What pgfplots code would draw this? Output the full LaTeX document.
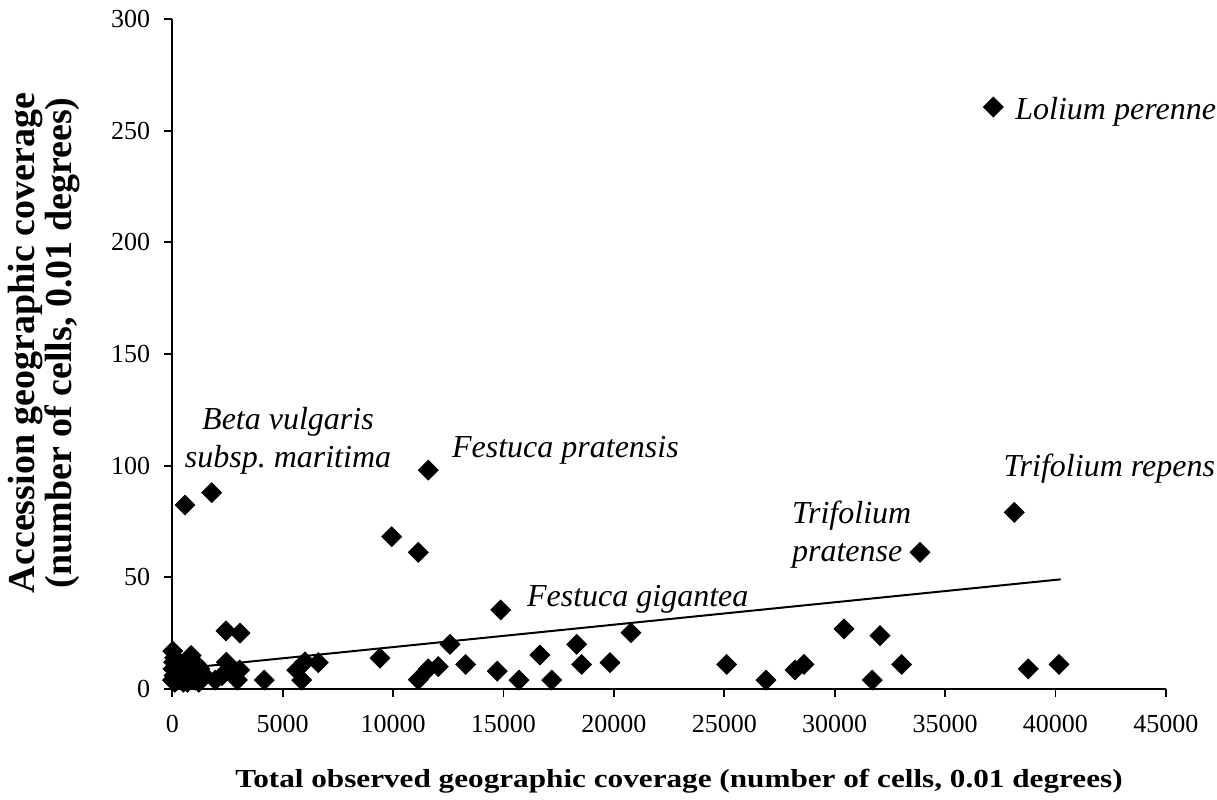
\documentclass[border=0pt]{standalone}
\usepackage{fontspec}
\setmainfont{Liberation Serif}
\usepackage{pgfplots}
\usepackage{pgfplotstable}
\pgfplotsset{compat=1.18}
\pgfplotstableread{
x y
20 17
60 12
30 9
80 6
10 4
150 10
200 7
250 4
300 12
350 9
400 5
450 8
500 3
550 11
600 6
650 9
700 4
750 13
800 7
850 15
900 5
950 10
1000 8
1050 4
1100 11
1150 6
1250 9
1300 5
1350 7
100 14
120 3
680 3
1200 3
575 82.4
1783 87.9
1950 4
2250 6
2450 12
2700 8.5
3050 8.5
2950 4
2432 26
3066 25
4167 4
5634 8.5
5860 4
6010 12.2
6612 11.8
9407 13.8
9936 68.2
11141 61.2
11594 98
11141 4.2
11594 9
12047 10
12577 20
13288 11
14720 8
14873 35.4
15702 4
16649 15.2
17183 4
18315 20
18541 11
19823 11.8
20774 25.2
25108 11
26888 4
28202 8.5
28610 11
30421 26.9
31703 4
32051 23.9
33034 11
33863 61.2
37183 260.6
38134 79.1
38768 9
40159 11
}\pts
\begin{document}
\begin{tikzpicture}
\path[use as bounding box] (-86.15pt,-55pt) rectangle (522.35pt,344.5pt);
\begin{axis}[
  at={(0,0)}, anchor=south west,
  scale only axis, width=496.8pt, height=335pt,
  xmin=0, xmax=45000, ymin=0, ymax=300,
  xtick={0,5000,...,45000}, ytick={0,50,...,300},
  scaled x ticks=false,
  /pgf/number format/1000 sep={},
  /pgf/number format/assume math mode=true,
  axis lines=left, axis line style={-, line width=0.9pt, black},
  tick align=outside, major tick length=4pt,
  tick style={black, line width=0.9pt},
  tick label style={font=\fontsize{13}{15}\selectfont},
  xticklabel style={yshift=-5.5pt},
  yticklabel style={xshift=-3.5pt},
  clip=false,
]
\addplot[black, line width=1pt, no marks] coordinates {(0,8.74) (40235,49.1)};
\addplot[only marks, mark=square*, mark size=3.5pt,
  mark options={rotate=45, fill=black, draw=black}] table[x=x,y=y] {\pts};
\begin{scope}[every node/.style={inner sep=0pt, font=\fontsize{16}{19}\selectfont\itshape}]
\node[anchor=base west] at (axis cs:38166,255.0) {Lolium perenne};
\node[anchor=base] at (axis cs:5240,116.2) {Beta vulgaris};
\node[anchor=base] at (axis cs:5240,99.2) {subsp.\ maritima};
\node[anchor=base west] at (axis cs:12654,103.7) {Festuca pratensis};
\node[anchor=base west] at (axis cs:16051,36.8) {Festuca gigantea};
\node[anchor=base west] at (axis cs:28053,73.9) {Trifolium};
\node[anchor=base west] at (axis cs:28053,57.0) {pratense};
\node[anchor=base west] at (axis cs:37636,95.3) {Trifolium repens};
\end{scope}
\end{axis}
\node[anchor=base, inner sep=0pt, font=\fontsize{13}{15}\selectfont\bfseries] at (253.35pt,-49pt)
  {\scalebox{1.2}[1]{Total observed geographic coverage (number of cells, 0.01 degrees)}};
\node[anchor=base, rotate=90, inner sep=0pt, font=\fontsize{19}{19}\selectfont\bfseries] at (-68.65pt,173pt)
  {Accession geographic coverage};
\node[anchor=base, rotate=90, inner sep=0pt, font=\fontsize{19}{19}\selectfont\bfseries] at (-50.3pt,173pt)
  {(number of cells, 0.01 degrees)};
\end{tikzpicture}
\end{document}
